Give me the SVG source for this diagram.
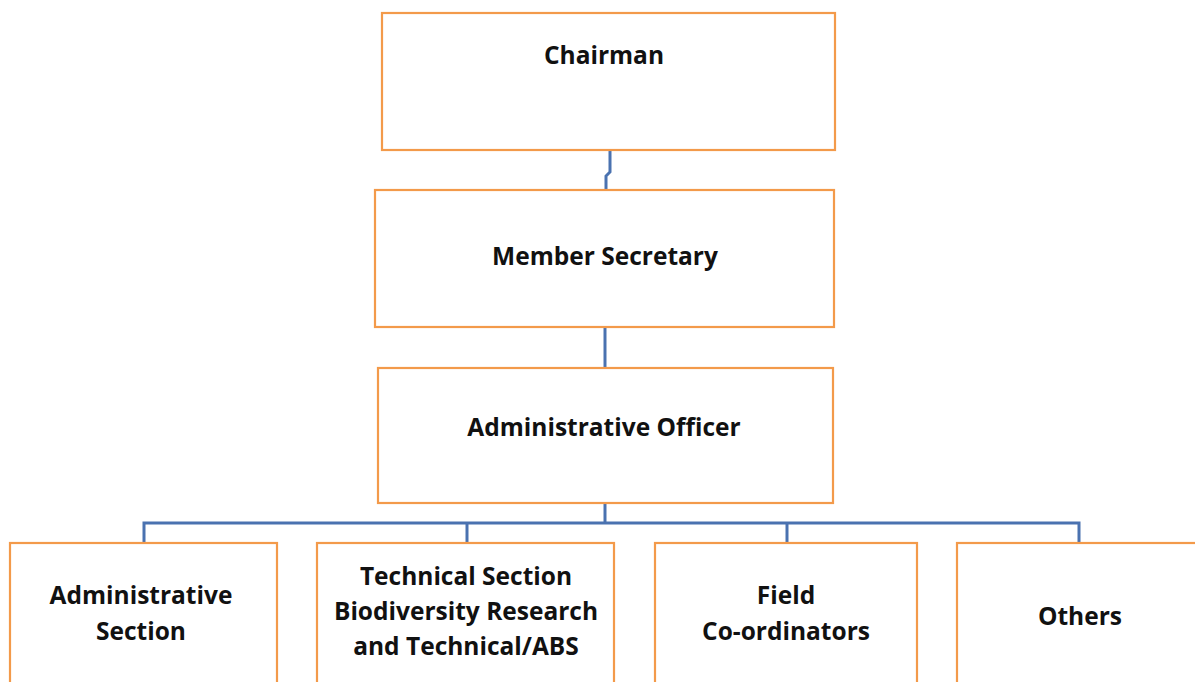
<svg xmlns="http://www.w3.org/2000/svg" width="1195" height="682" viewBox="0 0 1195 682">
<style>
.box{fill:#fff;stroke:#F39A4A;stroke-width:2.2}
.lbl{font-family:"Open Sans","Liberation Sans",sans-serif;font-weight:700;font-size:24.5px;fill:#111;text-anchor:middle}
.con{fill:none;stroke:#4A72B0;stroke-width:3}
</style>
<rect width="1195" height="682" fill="#fff"/>
<g id="connectors">
<path class="con" d="M610,150 V172 L606,176 V190"/>
<path class="con" d="M605,327 V368"/>
<path class="con" d="M605,503 V523"/>
<path class="con" d="M144,542 V523 H1079 V542"/>
<path class="con" d="M467,523 V542"/>
<path class="con" d="M787,523 V542"/>
</g>
<g id="chairman"><rect class="box" x="382" y="13" width="453" height="137"/><text class="lbl" x="604" y="64">Chairman</text></g>
<g id="member-secretary"><rect class="box" x="375" y="190" width="459" height="137"/><text class="lbl" x="605" y="265">Member Secretary</text></g>
<g id="admin-officer"><rect class="box" x="378" y="368" width="455" height="135"/><text class="lbl" x="604" y="436">Administrative Officer</text></g>
<g id="admin-section"><rect class="box" x="10" y="543" width="267" height="150"/><text class="lbl" x="141" y="604">Administrative</text><text class="lbl" x="141" y="640">Section</text></g>
<g id="technical-section"><rect class="box" x="317" y="543" width="297" height="150"/><text class="lbl" x="466" y="585">Technical Section</text><text class="lbl" x="466" y="620">Biodiversity Research</text><text class="lbl" x="466" y="655">and Technical/ABS</text></g>
<g id="field-coordinators"><rect class="box" x="655" y="543" width="262" height="150"/><text class="lbl" x="786" y="604">Field</text><text class="lbl" x="786" y="640">Co-ordinators</text></g>
<g id="others"><rect class="box" x="957" y="543" width="260" height="150"/><text class="lbl" x="1080" y="625">Others</text></g>
</svg>
